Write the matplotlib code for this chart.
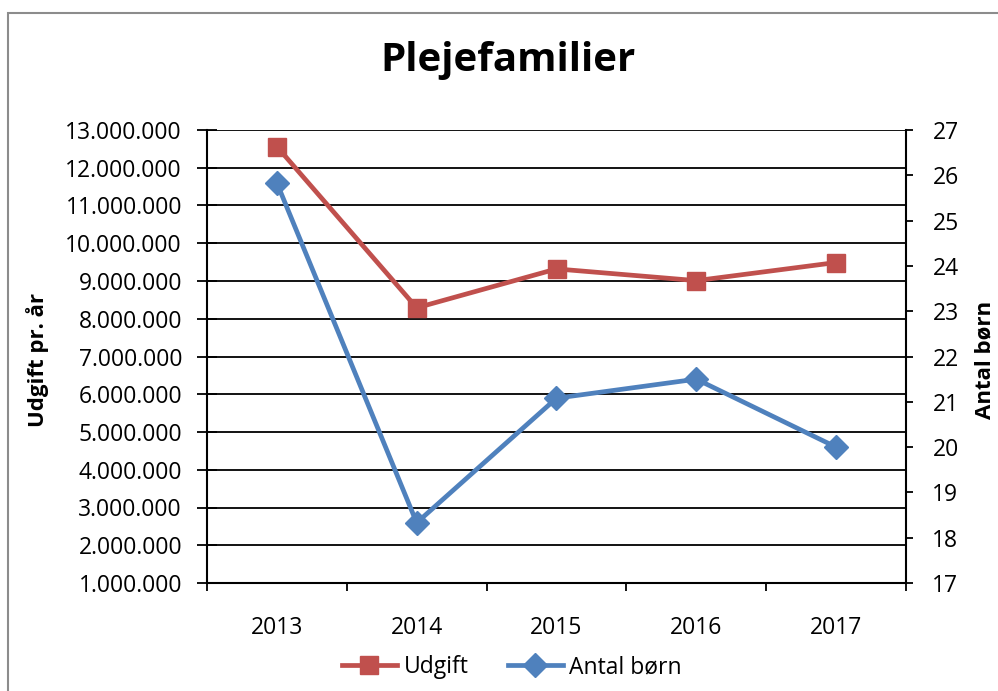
import matplotlib
matplotlib.use("Agg")
import matplotlib.pyplot as plt
from matplotlib.ticker import FuncFormatter, FixedLocator
from matplotlib.patches import Rectangle

plt.rcParams['font.family'] = ['Open Sans', 'DejaVu Sans']

years = ["2013", "2014", "2015", "2016", "2017"]
udgift = [12560000, 8290000, 9320000, 9010000, 9490000]
antal_born = [25.83, 18.33, 21.08, 21.5, 20.0]

left_ticks = list(range(1000000, 13000001, 1000000))
right_ticks = list(range(17, 28))

RED = "#C0504D"
BLUE = "#4F81BD"

fig = plt.figure(figsize=(9.98, 6.91), dpi=100)
fig.patches.append(Rectangle((8/998, -0.1), 1.2, 1 - 13/691 + 0.1, transform=fig.transFigure,
                             fill=False, edgecolor="#8c8c8c", linewidth=1.5))

ax = fig.add_axes([207/998, 1 - 583/691, (906 - 207)/998, (583 - 130)/691])
x = list(range(len(years)))

ax.set_xlim(-0.5, len(years) - 0.5)
ax.set_ylim(left_ticks[0], left_ticks[-1])
ax.yaxis.set_major_locator(FixedLocator(left_ticks))
ax.yaxis.set_major_formatter(FuncFormatter(lambda v, p: f"{int(v):,}".replace(",", ".")))
ax.grid(axis="y", color="black", linewidth=1.3)
ax.set_axisbelow(True)
ax.set_xticks(x)
ax.set_xticklabels(years)
ax.set_xticks([i - 0.5 for i in range(len(years) + 1)], minor=True)
ax.tick_params(axis="x", which="major", length=0, pad=24, labelsize=16.5)
ax.tick_params(axis="x", which="minor", length=6, width=1.3, direction="out")
ax.tick_params(axis="y", which="major", length=14, width=1.3, direction="inout", pad=11, labelsize=16.5)
for s in ["top", "right"]:
    ax.spines[s].set_visible(False)
for s in ["left", "bottom"]:
    ax.spines[s].set_linewidth(1.5)

l1, = ax.plot(x, udgift, color=RED, linewidth=3.4, marker="s", markersize=13.5, label="Udgift", zorder=3)

ax2 = ax.twinx()
ax2.set_ylim(right_ticks[0], right_ticks[-1])
ax2.yaxis.set_major_locator(FixedLocator(right_ticks))
ax2.tick_params(axis="y", length=5, width=1.3, direction="out", pad=14, labelsize=16.5)
for s in ["top", "left", "bottom"]:
    ax2.spines[s].set_visible(False)
ax2.spines["right"].set_linewidth(1.5)
l2, = ax2.plot(x, antal_born, color=BLUE, linewidth=3.4, marker="D", markersize=12, label="Antal børn", zorder=3)

fig.text(508/998, 1 - 60/691, "Plejefamilier", ha="center", va="center", fontsize=29, fontweight="bold")
fig.text(38/998, 1 - 360/691, "Udgift pr. år", ha="center", va="center", rotation=90, fontsize=16, fontweight="bold")
fig.text(985/998, 1 - 360/691, "Antal børn", ha="center", va="center", rotation=90, fontsize=16, fontweight="bold")

fig.legend(handles=[l1, l2], loc="center", bbox_to_anchor=(512/998, 1 - 667/691), ncol=2,
           frameon=False, fontsize=16.5, handlelength=2.4, columnspacing=1.7, handletextpad=0.3)

fig.savefig("out.png", dpi=100)
